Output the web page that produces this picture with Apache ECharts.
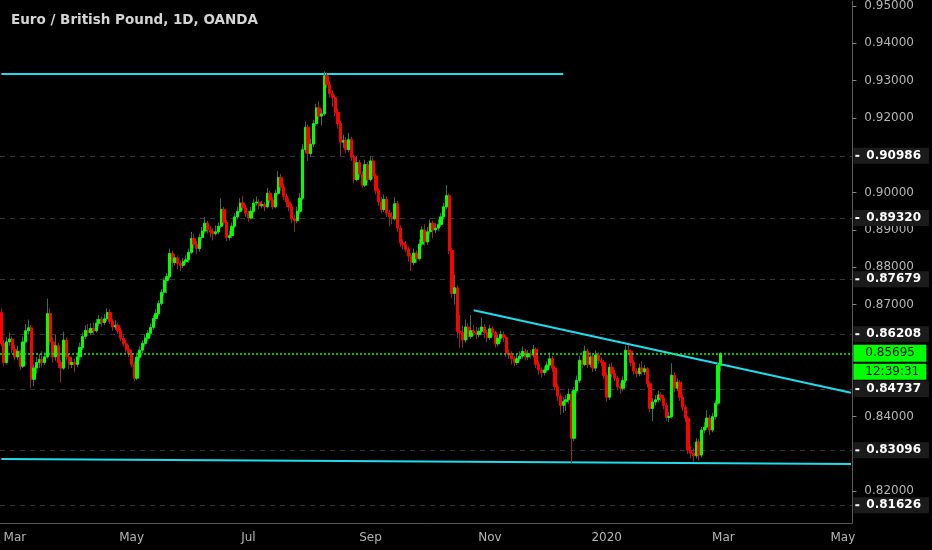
<!DOCTYPE html>
<html>
<head>
<meta charset="utf-8">
<style>
  html, body { margin: 0; padding: 0; background: #000; }
  #chart { width: 932px; height: 550px; }
</style>
</head>
<body>
<div id="chart"></div>
<script src="https://cdn.jsdelivr.net/npm/echarts/dist/echarts.min.js"></script>
<script>
// EUR/GBP daily, OANDA, 22 Feb 2019 - 28 Feb 2020 (open = previous close)
var firstOpen = 0.8679;
var closes = [
  0.8596, 0.8545, 0.8600, 0.8608, 0.8580, 0.8560, 0.8575, 0.8535, 0.8600, 0.8630,
  0.8638, 0.8500, 0.8530, 0.8545, 0.8553, 0.8545, 0.8560, 0.8676, 0.8600, 0.8560,
  0.8590, 0.8545, 0.8530, 0.8605, 0.8560, 0.8540, 0.8545, 0.8540, 0.8560, 0.8585,
  0.8615, 0.8631, 0.8625, 0.8636, 0.8630, 0.8650, 0.8660, 0.8652, 0.8662, 0.8679,
  0.8655, 0.8640, 0.8645, 0.8630, 0.8610, 0.8595, 0.8580, 0.8570, 0.8540, 0.8503,
  0.8559, 0.8578, 0.8596, 0.8610, 0.8623, 0.8639, 0.8663, 0.8676, 0.8703, 0.8733,
  0.8765, 0.8775, 0.8837, 0.8813, 0.8825, 0.8810, 0.8805, 0.8815, 0.8820, 0.8840,
  0.8877, 0.8862, 0.8850, 0.8880, 0.8897, 0.8918, 0.8900, 0.8895, 0.8890, 0.8895,
  0.8910, 0.8955, 0.8920, 0.8880, 0.8885, 0.8910, 0.8935, 0.8950, 0.8972, 0.8960,
  0.8945, 0.8932, 0.8950, 0.8972, 0.8975, 0.8965, 0.8968, 0.8962, 0.8998, 0.8980,
  0.8962, 0.8998, 0.9040, 0.9015, 0.8990, 0.8975, 0.8962, 0.8930, 0.8925, 0.8950,
  0.8985, 0.9115, 0.9175, 0.9105, 0.9130, 0.9185, 0.9227, 0.9205, 0.9211, 0.9313,
  0.9290, 0.9265, 0.9255, 0.9215, 0.9185, 0.9135, 0.9140, 0.9115, 0.9142, 0.9095,
  0.9035, 0.9080, 0.9050, 0.9020, 0.9075, 0.9035, 0.9085, 0.9045, 0.9005, 0.8975,
  0.8955, 0.8982, 0.8945, 0.8935, 0.8930, 0.8970, 0.8905, 0.8865, 0.8860, 0.8848,
  0.8830, 0.8813, 0.8838, 0.8823, 0.8862, 0.8900, 0.8868, 0.8895, 0.8918, 0.8900,
  0.8905, 0.8915, 0.8935, 0.8962, 0.8992, 0.8845, 0.8730, 0.8745, 0.8628, 0.8625,
  0.8605, 0.8640, 0.8615, 0.8630, 0.8625, 0.8620, 0.8628, 0.8640, 0.8625, 0.8612,
  0.8635, 0.8625, 0.8595, 0.8610, 0.8620, 0.8612, 0.8570, 0.8565, 0.8555, 0.8545,
  0.8555, 0.8562, 0.8575, 0.8560, 0.8568, 0.8565, 0.8580, 0.8540, 0.8525, 0.8518,
  0.8525, 0.8538, 0.8555, 0.8530, 0.8480, 0.8455, 0.8430, 0.8440, 0.8445, 0.8460,
  0.8342, 0.8470, 0.8497, 0.8551, 0.8540, 0.8575, 0.8540, 0.8560, 0.8530, 0.8565,
  0.8550, 0.8545, 0.8510, 0.8452, 0.8532, 0.8515, 0.8503, 0.8480, 0.8476, 0.8497,
  0.8578, 0.8575, 0.8545, 0.8522, 0.8515, 0.8530, 0.8520, 0.8528, 0.8488, 0.8422,
  0.8439, 0.8445, 0.8458, 0.8450, 0.8430, 0.8398, 0.8400, 0.8511, 0.8476, 0.8492,
  0.8452, 0.8425, 0.8396, 0.8310, 0.8302, 0.8295, 0.8332, 0.8297, 0.8364, 0.8372,
  0.8396, 0.8364, 0.8400, 0.8436, 0.8537, 0.85695
];
var highs = [
  0.8690, 0.8605, 0.8612, 0.8625, 0.8615, 0.8592, 0.8590, 0.8580, 0.8615, 0.8648,
  0.8660, 0.8645, 0.8540, 0.8560, 0.8568, 0.8575, 0.8572, 0.8716, 0.8690, 0.8612,
  0.8620, 0.8598, 0.8552, 0.8628, 0.8612, 0.8568, 0.8560, 0.8555, 0.8572, 0.8598,
  0.8625, 0.8645, 0.8648, 0.8650, 0.8652, 0.8662, 0.8672, 0.8668, 0.8675, 0.8690,
  0.8688, 0.8662, 0.8658, 0.8652, 0.8638, 0.8618, 0.8605, 0.8592, 0.8578, 0.8548,
  0.8565, 0.8588, 0.8605, 0.8620, 0.8632, 0.8650, 0.8672, 0.8688, 0.8712, 0.8742,
  0.8772, 0.8785, 0.8850, 0.8845, 0.8835, 0.8832, 0.8818, 0.8825, 0.8832, 0.8850,
  0.8895, 0.8890, 0.8870, 0.8890, 0.8908, 0.8935, 0.8925, 0.8910, 0.8905, 0.8912,
  0.8920, 0.8985, 0.8962, 0.8928, 0.8898, 0.8920, 0.8945, 0.8962, 0.8985, 0.8990,
  0.8968, 0.8952, 0.8962, 0.8982, 0.8990, 0.8982, 0.8978, 0.8975, 0.9012, 0.9005,
  0.8988, 0.9008, 0.9058, 0.9050, 0.9025, 0.8998, 0.8985, 0.8970, 0.8940, 0.8962,
  0.8998, 0.9130, 0.9190, 0.9182, 0.9145, 0.9195, 0.9238, 0.9245, 0.9225, 0.9325,
  0.9322, 0.9298, 0.9275, 0.9262, 0.9225, 0.9192, 0.9155, 0.9148, 0.9160, 0.9150,
  0.9102, 0.9098, 0.9088, 0.9058, 0.9088, 0.9082, 0.9098, 0.9095, 0.9052, 0.9012,
  0.8988, 0.8995, 0.8990, 0.8955, 0.8948, 0.8988, 0.8978, 0.8912, 0.8875, 0.8870,
  0.8855, 0.8838, 0.8850, 0.8845, 0.8875, 0.8910, 0.8915, 0.8908, 0.8928, 0.8925,
  0.8918, 0.8928, 0.8945, 0.8972, 0.9020, 0.8998, 0.8852, 0.8780, 0.8752, 0.8672,
  0.8645, 0.8660, 0.8650, 0.8672, 0.8645, 0.8640, 0.8638, 0.8665, 0.8648, 0.8632,
  0.8645, 0.8642, 0.8630, 0.8620, 0.8630, 0.8628, 0.8618, 0.8580, 0.8575, 0.8562,
  0.8568, 0.8575, 0.8588, 0.8582, 0.8578, 0.8578, 0.8592, 0.8585, 0.8548, 0.8532,
  0.8535, 0.8548, 0.8572, 0.8562, 0.8535, 0.8488, 0.8462, 0.8452, 0.8458, 0.8475,
  0.8468, 0.8480, 0.8510, 0.8562, 0.8565, 0.8590, 0.8582, 0.8572, 0.8568, 0.8578,
  0.8572, 0.8560, 0.8552, 0.8518, 0.8542, 0.8545, 0.8525, 0.8510, 0.8490, 0.8508,
  0.8590, 0.8592, 0.8580, 0.8552, 0.8530, 0.8542, 0.8548, 0.8538, 0.8532, 0.8495,
  0.8450, 0.8458, 0.8470, 0.8465, 0.8458, 0.8438, 0.8412, 0.8543, 0.8518, 0.8502,
  0.8498, 0.8460, 0.8432, 0.8402, 0.8320, 0.8315, 0.8342, 0.8340, 0.8372, 0.8385,
  0.8417, 0.8405, 0.8410, 0.8445, 0.8545, 0.8572
];
var lows = [
  0.8588, 0.8535, 0.8540, 0.8590, 0.8570, 0.8550, 0.8552, 0.8525, 0.8530, 0.8595,
  0.8620, 0.8476, 0.8482, 0.8515, 0.8530, 0.8532, 0.8538, 0.8555, 0.8590, 0.8545,
  0.8550, 0.8530, 0.8492, 0.8525, 0.8550, 0.8528, 0.8530, 0.8518, 0.8532, 0.8550,
  0.8578, 0.8608, 0.8615, 0.8618, 0.8622, 0.8625, 0.8642, 0.8640, 0.8645, 0.8655,
  0.8648, 0.8630, 0.8632, 0.8622, 0.8602, 0.8588, 0.8572, 0.8560, 0.8532, 0.8495,
  0.8498, 0.8550, 0.8570, 0.8588, 0.8602, 0.8615, 0.8632, 0.8655, 0.8670, 0.8698,
  0.8725, 0.8730, 0.8770, 0.8800, 0.8805, 0.8795, 0.8790, 0.8798, 0.8808, 0.8812,
  0.8835, 0.8850, 0.8835, 0.8842, 0.8872, 0.8890, 0.8890, 0.8880, 0.8872, 0.8885,
  0.8888, 0.8905, 0.8912, 0.8870, 0.8872, 0.8878, 0.8905, 0.8928, 0.8945, 0.8952,
  0.8935, 0.8922, 0.8928, 0.8945, 0.8965, 0.8955, 0.8958, 0.8950, 0.8958, 0.8972,
  0.8955, 0.8958, 0.8992, 0.9005, 0.8980, 0.8962, 0.8950, 0.8918, 0.8895, 0.8918,
  0.8942, 0.8980, 0.9105, 0.9085, 0.9095, 0.9122, 0.9178, 0.9195, 0.9180, 0.9205,
  0.9280, 0.9255, 0.9230, 0.9205, 0.9172, 0.9098, 0.9120, 0.9105, 0.9108, 0.9085,
  0.9025, 0.9030, 0.9040, 0.9012, 0.9015, 0.9025, 0.9030, 0.9035, 0.8995, 0.8965,
  0.8945, 0.8948, 0.8935, 0.8910, 0.8915, 0.8925, 0.8895, 0.8855, 0.8848, 0.8840,
  0.8815, 0.8790, 0.8805, 0.8812, 0.8818, 0.8855, 0.8858, 0.8860, 0.8888, 0.8878,
  0.8892, 0.8898, 0.8908, 0.8928, 0.8955, 0.8835, 0.8718, 0.8700, 0.8610, 0.8585,
  0.8585, 0.8598, 0.8605, 0.8608, 0.8615, 0.8608, 0.8612, 0.8620, 0.8610, 0.8600,
  0.8605, 0.8615, 0.8585, 0.8588, 0.8600, 0.8600, 0.8560, 0.8555, 0.8540, 0.8535,
  0.8538, 0.8548, 0.8555, 0.8550, 0.8552, 0.8555, 0.8558, 0.8530, 0.8512, 0.8505,
  0.8510, 0.8518, 0.8530, 0.8520, 0.8470, 0.8442, 0.8405, 0.8410, 0.8415, 0.8435,
  0.8275, 0.8335, 0.8462, 0.8490, 0.8530, 0.8535, 0.8530, 0.8532, 0.8520, 0.8522,
  0.8542, 0.8535, 0.8500, 0.8440, 0.8445, 0.8505, 0.8495, 0.8470, 0.8462, 0.8468,
  0.8490, 0.8565, 0.8535, 0.8512, 0.8505, 0.8508, 0.8510, 0.8512, 0.8478, 0.8412,
  0.8388, 0.8430, 0.8438, 0.8440, 0.8420, 0.8388, 0.8385, 0.8395, 0.8465, 0.8468,
  0.8442, 0.8415, 0.8385, 0.8300, 0.8288, 0.8278, 0.8288, 0.8282, 0.8290, 0.8355,
  0.8365, 0.8350, 0.8358, 0.8392, 0.8430, 0.8520
];

// axis text
var priceTicks = [0.82, 0.84, 0.87, 0.88, 0.89, 0.90, 0.92, 0.93, 0.94, 0.95];
var levels = [0.90986, 0.89320, 0.87679, 0.86208, 0.84737, 0.83096, 0.81626];
var tickDates = ['2019-03-01', '2019-05-01', '2019-07-01', '2019-09-02', '2019-11-01', '2020-01-01', '2020-03-02', '2020-05-01'];
var tickLabels = ['Mar', 'May', 'Jul', 'Sep', 'Nov', '2020', 'Mar', 'May'];
var lastPrice = 0.85695;
var countdown = '12:39:31';

// drawn lines: [bar index, price] -> [bar index, price]
var topLine = [[0, 0.93182], [207, 0.93182]];
var bottomLine = [[0, 0.82861], [313, 0.82727]];
var trendLine = [[174, 0.86850], [313, 0.84640]];

// weekday bars, history plus empty space to the right
var barCount = 314;
var dates = [];
for (var t = Date.UTC(2019, 1, 22); dates.length < barCount; t += 86400000) {
  var wd = new Date(t).getUTCDay();
  if (wd === 0 || wd === 6) continue;
  dates.push(new Date(t).toISOString().slice(0, 10));
}

var ohlc = [], bodies = [];
var prev = firstOpen;
for (var i = 0; i < closes.length; i++) {
  var o = prev, c = closes[i];
  ohlc.push([o, c, Math.min(lows[i], o, c), Math.max(highs[i], o, c)]);
  bodies.push([o, c, Math.min(o, c), Math.max(o, c)]);
  prev = c;
}

var cyan = '#1fdcec';
var lime = '#00ff00';
var font = 'DejaVu Sans';
function seg(p) {
  return [{ coord: p[0] }, { coord: p[1] }];
}

var chart = echarts.init(document.getElementById('chart'));
chart.setOption({
  backgroundColor: '#000',
  animation: false,
  title: {
    text: 'Euro / British Pound, 1D, OANDA',
    left: 6, top: 8,
    textStyle: { color: '#d4d4d4', fontSize: 13.5, fontWeight: 'bold', fontFamily: font }
  },
  grid: { left: 0, right: 79, top: 0, bottom: 27 },
  xAxis: {
    type: 'category',
    data: dates,
    boundaryGap: true,
    axisLine: { lineStyle: { color: '#555' } },
    axisTick: {
      alignWithLabel: true, length: 3,
      interval: function (idx, v) { return tickDates.indexOf(v) >= 0; },
      lineStyle: { color: '#888' }
    },
    axisLabel: {
      interval: function (idx, v) { return tickDates.indexOf(v) >= 0; },
      formatter: function (v) { return tickLabels[tickDates.indexOf(v)]; },
      color: '#b4b4b4', fontSize: 12, fontFamily: font, margin: 9
    },
    splitLine: { show: false }
  },
  yAxis: [{
    type: 'value',
    position: 'right',
    min: 0.811497, max: 0.951337,
    axisLine: { show: true, lineStyle: { color: '#5a5a5a' } },
    axisTick: { show: true, customValues: priceTicks, length: 4, lineStyle: { color: '#888' } },
    axisLabel: {
      customValues: priceTicks,
      formatter: function (v) { return v.toFixed(5); },
      color: '#b4b4b4', fontSize: 12, fontFamily: font, margin: 12
    },
    splitLine: { show: false }
  }, {
    type: 'value',
    position: 'right',
    min: 0.811497, max: 0.951337,
    axisLine: { show: false },
    axisTick: { show: false },
    axisLabel: {
      customValues: levels,
      formatter: function (v) { return '{k| }{v|' + v.toFixed(5) + '}'; },
      backgroundColor: '#1b1b1b', padding: [2, 8, 2, 2], margin: 1,
      rich: {
        k: { width: 4, height: 2, backgroundColor: '#ffffff', verticalAlign: 'middle' },
        v: { color: '#fff', fontWeight: 'bold', fontSize: 12, fontFamily: font,
             padding: [0, 0, 0, 7], verticalAlign: 'middle' }
      }
    },
    splitLine: { show: false }
  }],
  series: [{
    type: 'line',
    data: [],
    markLine: {
      silent: true, z: 1,
      precision: 5,
      symbol: 'none',
      label: { show: false },
      data: levels.map(function (v) {
        return { yAxis: v, lineStyle: { color: '#333', type: [5, 5], width: 1 } };
      }).concat([
        seg(topLine), seg(bottomLine), seg(trendLine)
      ].map(function (s) {
        s[0].lineStyle = { color: cyan, width: 2, type: 'solid' };
        return s;
      }))
    }
  }, {
    type: 'candlestick',
    data: ohlc,
    barWidth: 1,
    z: 2,
    itemStyle: {
      color: '#3b6d5a', color0: '#833030',
      borderColor: '#3b6d5a', borderColor0: '#833030', borderWidth: 1
    }
  }, {
    type: 'candlestick',
    data: bodies,
    barWidth: 2.8,
    z: 3,
    itemStyle: {
      color: lime, color0: '#ff0000',
      borderColor: lime, borderColor0: '#ff0000', borderWidth: 1
    }
  }, {
    type: 'line',
    data: [],
    color: lime,
    markLine: {
      silent: true, z: 10,
      precision: 5,
      symbol: 'none',
      lineStyle: { color: lime, type: [2, 2], width: 1.5, opacity: 1 },
      data: [{
        yAxis: lastPrice,
        lineStyle: { color: lime, type: [2, 2], width: 1.5, opacity: 1 },
        label: {
          show: true, position: 'end', distance: 1,
          formatter: '{e| }\n{p|' + lastPrice.toFixed(5) + '}\n{g| }\n{t|' + countdown + '}',
          rich: {
            e: { height: 18, lineHeight: 18 },
            p: { backgroundColor: lime, color: '#0a0a0a', fontSize: 12, fontFamily: font,
                 width: 52, height: 17, lineHeight: 17, padding: [0, 9, 0, 12] },
            g: { height: 2, lineHeight: 2, fontSize: 2 },
            t: { backgroundColor: lime, color: '#0a0a0a', fontSize: 12, fontFamily: font,
                 width: 52, height: 16, lineHeight: 16, padding: [0, 9, 0, 12] }
          }
        }
      }]
    }
  }]
});
</script>
</body>
</html>
